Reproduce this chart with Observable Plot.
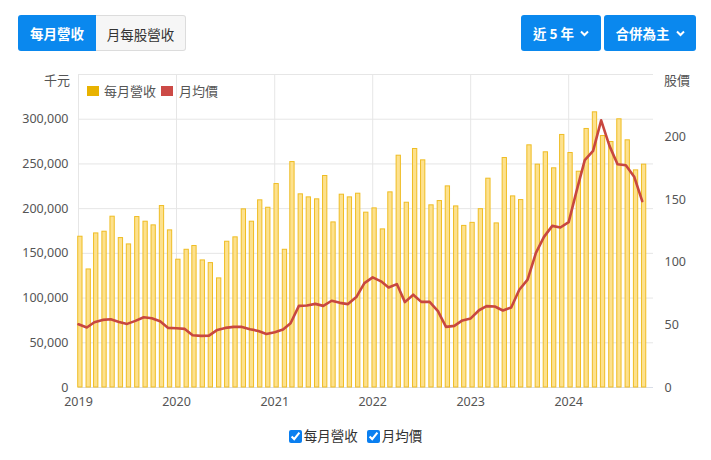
<!DOCTYPE html>
<html><head><meta charset="utf-8">
<script src="https://cdn.jsdelivr.net/npm/d3@7"></script>
<script src="https://cdn.jsdelivr.net/npm/@observablehq/plot@0.6"></script>
<style>
body{margin:0;background:#fff;font-family:"Noto Sans","Noto Sans CJK TC",sans-serif;}
#wrap{position:relative;width:711px;height:460px;overflow:hidden;background:#fff}
#chart{position:absolute;left:0;top:0}
.btn{position:absolute;top:15px;height:36px;line-height:36px;font-size:13.5px;text-align:center;box-sizing:border-box;font-family:"Noto Sans CJK TC",sans-serif;}
.blue{background:#0a88ee;color:#fff;font-weight:bold;border-radius:3px}
.gray{background:#f6f6f6;color:#333;border:1px solid #dcdcdc;border-left:none;border-radius:0 3px 3px 0}
.chev{display:inline-block;vertical-align:middle;margin-left:6px;margin-top:-3px}
.lbl{position:absolute;font-size:13px;color:#555;font-family:"Noto Sans CJK TC",sans-serif;line-height:16px}
.sq{position:absolute;width:12px;height:10px}
#bottom{position:absolute;top:425px;left:0;width:711px;text-align:center;font-size:13.5px;color:#333;font-family:"Noto Sans CJK TC",sans-serif}
#bottom label{margin:0 3px}
#bottom input{accent-color:#0a7ff0;width:13px;height:13px;margin:0 2px 0 0;vertical-align:-2px}
</style>
</head><body>
<div id="wrap">
  <div id="chart"></div>
  <div class="btn blue" style="left:18px;width:78px;border-radius:3px 0 0 3px">每月營收</div>
  <div class="btn gray" style="left:96px;width:90px;font-weight:normal">月每股營收</div>
  <div class="btn blue" style="left:521px;width:80px">近 5 年<svg class="chev" width="9" height="7" viewBox="0 0 9 7"><polyline points="1,1.5 4.5,5 8,1.5" fill="none" stroke="#fff" stroke-width="2"/></svg></div>
  <div class="btn blue" style="left:604px;width:92px">合併為主<svg class="chev" width="9" height="7" viewBox="0 0 9 7"><polyline points="1,1.5 4.5,5 8,1.5" fill="none" stroke="#fff" stroke-width="2"/></svg></div>
  <div class="lbl" style="left:44px;top:72px">千元</div>
  <div class="lbl" style="left:664px;top:72px">股價</div>
  <div class="sq" style="left:87px;top:86px;background:#e8b200"></div>
  <div class="lbl" style="left:104px;top:83px">每月營收</div>
  <div class="sq" style="left:161px;top:86px;background:#cc4a46"></div>
  <div class="lbl" style="left:179px;top:83px">月均價</div>
  <div id="bottom"><label><input type="checkbox" checked>每月營收</label> <label><input type="checkbox" checked>月均價</label></div>
</div>
<script>
// Monthly revenue (千元), Jan 2019 – Oct 2024
const revenue = [
  168600,132000,172300,174200,191000,167100,160000,190600,185400,181300,202900,175700,
  142900,154000,158200,142100,139100,122000,163000,167900,199200,185400,209300,201000,
  227500,154000,252100,216000,212600,210400,236500,184600,215600,212600,216700,195500,
  200300,176800,218200,259200,206600,266700,254000,203700,208500,224900,202500,180700,
  184100,199400,233500,183500,256600,213700,209600,270800,249200,263000,245100,282400,
  262200,241300,289100,307700,281200,274500,299900,276400,242800,249200
];
// Monthly average share price
const price = [
  50.5,47.9,52.1,54.0,54.5,52.4,50.8,53.2,56.1,55.3,52.9,47.6,
  47.3,46.8,41.7,41.2,41.4,46.0,47.6,48.4,48.4,46.5,45.2,42.8,
  44.1,46.3,51.3,65.2,65.5,66.8,65.2,69.3,67.6,66.6,72.2,83.4,
  88.0,84.8,79.9,82.6,68.2,74.1,68.4,68.4,61.0,48.4,49.2,53.6,
  55.2,61.7,65.0,64.7,61.5,63.9,78.1,86.1,107.5,120.3,129.1,127.8,
  132.1,158.3,181.6,189.0,213.4,193.0,178.3,177.5,168.4,148.9
];
const startMonth = "2019-01-01";
const leftTicks = [0,50000,100000,150000,200000,250000,300000];
const rightTicks = [0,50,100,150,200];
const yearTicks = ["2019","2020","2021","2022","2023","2024"];

const months = d3.utcMonth.range(new Date(startMonth), d3.utcMonth.offset(new Date(startMonth), revenue.length));
const data = months.map((date,i)=>({date, rev: revenue[i], price: price[i]}));
const years = yearTicks.map(y=>new Date(y+"-01-01"));
const k = 350000/250; // right axis (0–250) mapped onto left axis (0–350,000)

const chart = Plot.plot({
  width:711, height:420,
  marginLeft:78, marginRight:58, marginTop:74, marginBottom:33,
  style:{fontFamily:'"Noto Sans","Noto Sans CJK TC",sans-serif', fontSize:"12.5px", color:"#555", background:"transparent", overflow:"visible"},
  x:{type:"utc", domain:[new Date("2019-01-01"), new Date("2024-11-12")]},
  y:{domain:[0,350000]},
  marks:[
    Plot.gridX(years,{stroke:"#e6e6e6", strokeOpacity:1}),
    Plot.gridY([50000,100000,150000,200000,250000,300000,350000],{stroke:"#e6e6e6", strokeOpacity:1}),
    Plot.ruleY([0],{stroke:"#d8dde8"}),
    Plot.rectY(data,{x1:d=>d3.utcDay.offset(d.date,-1), x2:d=>d3.utcDay.offset(d.date,15), y:"rev", fill:"#fde18e", stroke:"#efbd24", strokeWidth:1}),
    Plot.line(data,{x:"date", y:d=>d.price*k, stroke:"#c8473f", strokeWidth:2.6, curve:"linear"}),
    Plot.axisY(leftTicks,{anchor:"left", tickSize:0, tickPadding:10, tickFormat:d3.format(","), label:null}),
    Plot.axisY(rightTicks.map(v=>v*k),{anchor:"right", tickSize:0, tickPadding:11, tickFormat:d=>String(Math.round(d/k)), label:null}),
    Plot.axisX(years,{tickSize:0, tickPadding:10, tickFormat:d3.utcFormat("%Y"), label:null})
  ]
});
document.getElementById("chart").appendChild(chart);
</script>
</body></html>
